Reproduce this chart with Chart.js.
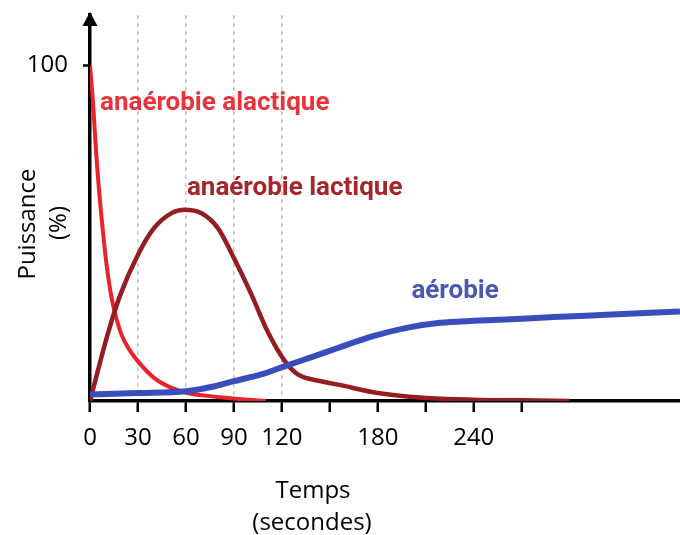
<!DOCTYPE html>
<html lang="fr">
<head>
<meta charset="utf-8">
<title>Puissance des filières énergétiques</title>
<script src="https://cdn.jsdelivr.net/npm/chart.js@4.4.1/dist/chart.umd.min.js"></script>
<style>
  html, body { margin: 0; padding: 0; background: #fff; }
  #wrap { width: 680px; height: 535px; position: relative; }
</style>
</head>
<body>
<div id="wrap"><canvas id="chart"></canvas></div>
<script>
// temps (s) et puissance (%)
const tAlactique = [0, 2, 4, 6, 8, 10, 12, 14.5, 19.5, 25, 30, 40, 51, 61, 72, 82, 95, 110];
const pAlactique = [100, 88, 73, 61, 51, 42, 35, 28.5, 20, 15, 11.8, 6.9, 3.9, 2.4, 1.6, 1.1, 0.5, 0];

const tLactique = [0, 11, 19, 30, 40, 51, 59, 69.5, 80, 90, 101, 111, 122, 130, 144.5, 156, 180, 208, 239, 270, 300];
const pLactique = [0, 19.8, 31.7, 43.6, 51.5, 56, 57, 56, 51.5, 42.6, 31.7, 20.8, 11.8, 7.9, 5.9, 4.8, 2.4, 1, 0.4, 0.2, 0];

const tAerobie = [0, 30, 60, 78, 90, 107, 122, 140, 155, 177, 198, 219, 240, 260, 290, 323, 369];
const pAerobie = [1.9, 2.4, 2.9, 4.4, 5.9, 7.9, 10.4, 13.3, 15.8, 19.3, 21.8, 23.3, 23.9, 24.3, 25, 25.7, 26.7];

const xTicks = [0, 30, 60, 90, 120, 150, 180, 210, 240, 270];
const xTickLabels = [0, 30, 60, 90, 120, 180, 240];
const xDashed = [30, 60, 90, 120];
const yTicks = [100];

function pts(t, p) {
  return t.map((v, i) => ({ x: v, y: p[i] }));
}

Chart.defaults.font.family = "'Open Sans', sans-serif";
Chart.defaults.color = '#000';

const extras = {
  id: 'extras',
  afterDraw(chart) {
    const { ctx, chartArea, scales } = chart;
    const x = scales.x, y = scales.y;
    ctx.save();

    // fleche de l'axe vertical
    const ax = chartArea.left;
    ctx.fillStyle = '#000';
    ctx.beginPath();
    ctx.moveTo(ax, chartArea.top - 3);
    ctx.lineTo(ax - 7.5, chartArea.top + 11);
    ctx.lineTo(ax + 7.5, chartArea.top + 11);
    ctx.closePath();
    ctx.fill();

    // titres des axes
    ctx.font = "24px 'Open Sans'";
    ctx.textAlign = 'center';
    ctx.textBaseline = 'alphabetic';
    ctx.fillText('Temps', 313, 498);
    ctx.fillText('(secondes)', 312, 530);

    ctx.save();
    ctx.translate(35, 224);
    ctx.rotate(-Math.PI / 2);
    ctx.fillText('Puissance', 0, 0);
    ctx.restore();
    ctx.save();
    ctx.translate(66, 223);
    ctx.rotate(-Math.PI / 2);
    ctx.fillText('(%)', 0, 0);
    ctx.restore();

    // noms des courbes
    const notes = [
      { text: 'anaérobie alactique', t: 6.25, p: 86.8, color: '#e8333a' },
      { text: 'anaérobie lactique', t: 60.6, p: 61.5, color: '#a5252b' },
      { text: 'aérobie', t: 201, p: 30.8, color: '#4b57b3' }
    ];
    ctx.font = "bold 26px Roboto";
    ctx.textAlign = 'left';
    notes.forEach(n => {
      ctx.fillStyle = n.color;
      ctx.fillText(n.text, x.getPixelForValue(n.t), y.getPixelForValue(n.p));
    });
    ctx.restore();
  }
};

window.addEventListener('load', function () {
  const ctx = document.getElementById('chart').getContext('2d');
  new Chart(ctx, {
    type: 'line',
    data: {
      datasets: [
        {
          label: 'aérobie',
          data: pts(tAerobie, pAerobie),
          borderColor: '#3b4dbd',
          borderWidth: 6,
          order: 0
        },
        {
          label: 'anaérobie lactique',
          data: pts(tLactique, pLactique),
          borderColor: '#951c21',
          borderWidth: 4.5,
          order: 1
        },
        {
          label: 'anaérobie alactique',
          data: pts(tAlactique, pAlactique),
          borderColor: '#e8232b',
          borderWidth: 4,
          order: 2
        }
      ]
    },
    options: {
      responsive: true,
      maintainAspectRatio: false,
      animation: false,
      layout: { padding: { top: 15, left: 0, right: 0, bottom: 0 } },
      elements: {
        point: { radius: 0 },
        line: { cubicInterpolationMode: 'monotone', fill: false }
      },
      plugins: {
        legend: { display: false },
        tooltip: { enabled: false }
      },
      scales: {
        x: {
          type: 'linear',
          min: 0,
          max: 369,
          afterFit: s => { s.height = 134; },
          afterBuildTicks: s => { s.ticks = xTicks.map(v => ({ value: v })); },
          ticks: {
            autoSkip: false,
            maxRotation: 0,
            padding: 12,
            font: { size: 24 },
            callback: v => xTickLabels.includes(v) ? String(v) : ''
          },
          grid: {
            color: c => (c.tick && xDashed.includes(c.tick.value)) ? '#c4c4c4' : 'rgba(0,0,0,0)',
            lineWidth: 1.5,
            tickColor: '#000',
            tickWidth: 2.5,
            tickLength: 11,
            tickBorderDash: []
          },
          border: { display: true, color: '#000', width: 3.5, dash: [4, 4] }
        },
        y: {
          type: 'linear',
          min: 0,
          max: 115,
          afterFit: s => { s.width = 90; },
          afterBuildTicks: s => { s.ticks = yTicks.map(v => ({ value: v })); },
          ticks: {
            padding: 15,
            font: { size: 24, lineHeight: 0.01 }
          },
          grid: {
            drawOnChartArea: false,
            tickColor: '#000',
            tickWidth: 2.5,
            tickLength: 7
          },
          border: { display: true, color: '#000', width: 3.5 }
        }
      }
    },
    plugins: [extras]
  });
});
</script>
</body>
</html>
